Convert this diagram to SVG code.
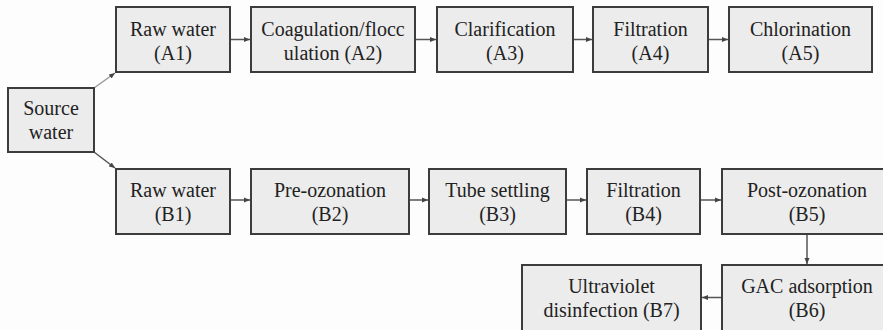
<svg xmlns="http://www.w3.org/2000/svg" width="883" height="330" viewBox="0 0 883 330" font-family="'Liberation Serif', 'DejaVu Serif', serif">
<style>
.box{fill:#ececec;stroke:#3c3c3c;stroke-width:2}
.t{font-family:'Liberation Serif','DejaVu Serif',serif;font-size:20px;fill:#222;text-anchor:middle}
.c{stroke:#555;stroke-width:1.5;fill:none;marker-end:url(#ah)}
.d{stroke:#999;stroke-width:1.5;fill:none;marker-end:url(#ah)}
</style>
<defs>
<marker id="ah" markerUnits="userSpaceOnUse" markerWidth="7" markerHeight="6" refX="6" refY="3" orient="auto">
<path d="M0,0.5 L6,3 L0,5.5 Z" fill="#444"/>
</marker>
</defs>
<rect width="883" height="330" fill="#fdfdfd"/>
<g id="connectors">
<line class="d" x1="94" y1="88" x2="115" y2="73"/>
<line class="c" x1="94" y1="152" x2="115" y2="168"/>
<line class="c" x1="230" y1="39.5" x2="250" y2="39.5"/>
<line class="c" x1="415" y1="39.5" x2="436" y2="39.5"/>
<line class="c" x1="573" y1="39.5" x2="592" y2="39.5"/>
<line class="c" x1="708" y1="39.5" x2="728" y2="39.5"/>
<line class="c" x1="230" y1="200" x2="250" y2="200"/>
<line class="c" x1="409" y1="200" x2="428" y2="200"/>
<line class="c" x1="566" y1="200" x2="586" y2="200"/>
<line class="c" x1="700" y1="200" x2="721" y2="200"/>
<line class="c" x1="807" y1="234" x2="807" y2="264"/>
<line class="c" x1="722" y1="297.5" x2="702" y2="297.5"/>
</g>
<g id="source"><rect class="box" x="8" y="88" width="86" height="64"/><text class="t" x="51" y="115">Source</text><text class="t" x="51" y="139">water</text></g>
<g id="A1"><rect class="box" x="116" y="7" width="114" height="65"/><text class="t" x="173" y="36">Raw water</text><text class="t" x="173" y="60">(A1)</text></g>
<g id="A2"><rect class="box" x="251" y="7" width="164" height="65"/><text class="t" x="333" y="36">Coagulation/flocc</text><text class="t" x="333" y="60">ulation (A2)</text></g>
<g id="A3"><rect class="box" x="437" y="7" width="136" height="65"/><text class="t" x="505" y="36">Clarification</text><text class="t" x="505" y="60">(A3)</text></g>
<g id="A4"><rect class="box" x="593" y="7" width="115" height="65"/><text class="t" x="650.5" y="36">Filtration</text><text class="t" x="650.5" y="60">(A4)</text></g>
<g id="A5"><rect class="box" x="729" y="7" width="143" height="65"/><text class="t" x="800.5" y="36">Chlorination</text><text class="t" x="800.5" y="60">(A5)</text></g>
<g id="B1"><rect class="box" x="116" y="169" width="114" height="65"/><text class="t" x="173" y="197">Raw water</text><text class="t" x="173" y="221">(B1)</text></g>
<g id="B2"><rect class="box" x="251" y="169" width="158" height="65"/><text class="t" x="330" y="197">Pre-ozonation</text><text class="t" x="330" y="221">(B2)</text></g>
<g id="B3"><rect class="box" x="429" y="169" width="137" height="65"/><text class="t" x="497.5" y="197">Tube settling</text><text class="t" x="497.5" y="221">(B3)</text></g>
<g id="B4"><rect class="box" x="587" y="169" width="113" height="65"/><text class="t" x="643.5" y="197">Filtration</text><text class="t" x="643.5" y="221">(B4)</text></g>
<g id="B5"><rect class="box" x="722" y="169" width="170" height="65"/><text class="t" x="807" y="197">Post-ozonation</text><text class="t" x="807" y="221">(B5)</text></g>
<g id="B6"><rect class="box" x="722" y="265" width="170" height="70"/><text class="t" x="807" y="293">GAC adsorption</text><text class="t" x="807" y="317">(B6)</text></g>
<g id="B7"><rect class="box" x="522" y="265" width="179" height="70"/><text class="t" x="611.5" y="293">Ultraviolet</text><text class="t" x="611.5" y="317">disinfection (B7)</text></g>
</svg>
